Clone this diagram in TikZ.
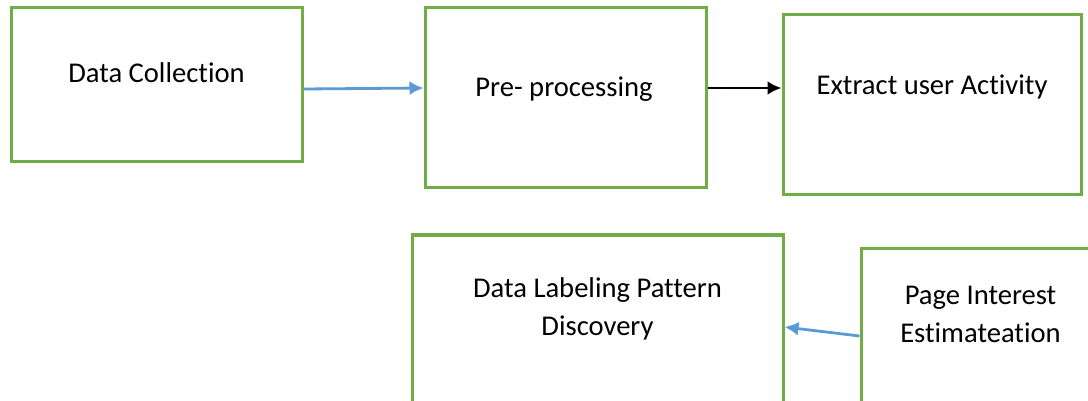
\documentclass[tikz,border=0pt]{standalone}
\usepackage{fontspec}
\setmainfont{Carlito}[Ligatures=NoCommon]
\usepackage{tikz}
\usetikzlibrary{arrows.meta}

\definecolor{boxgreen}{HTML}{70AD47}
\definecolor{arrowblue}{HTML}{5B9BD5}

\begin{document}
\begin{tikzpicture}[x=0.5pt,y=-0.5pt,>={Latex[length=7pt,width=7pt]},
	box/.style={draw=boxgreen,line width=1.5pt,inner sep=0pt,fill=white},
	boxsize/.style 2 args={minimum width=#1*0.5pt,minimum height=#2*0.5pt},
	txt/.style={anchor=base,align=center,font=\fontsize{14.3}{19}\selectfont},
	flow/.style={->,line width=1.4pt}]
	\useasboundingbox (0,0) rectangle (1088,401);
	\clip (0,0) rectangle (1088,401);
	\node[box,boxsize={291}{154}] (dc) at (156.5,85) {};
	\node[box,boxsize={281}{180}] (pre) at (565.5,98) {};
	\node[box,boxsize={298}{180}] (ext) at (932,105) {};
	\node[box,boxsize={371}{205}] (dlp) at (597.5,337.5) {};
	\node[box,boxsize={239}{192}] (pie) at (980.5,344) {};
	\node[txt] (dctext) at (156.5,83) {Data Collection};
	\node[txt] (pretext) at (564,97) {Pre- processing};
	\node[txt] (exttext) at (932,95) {Extract user Activity};
	\node[txt] (dlptext) at (597.5,335) {Data Labeling Pattern\\Discovery};
	\node[txt] (pietext) at (980.5,342) {Page Interest\\Estimateation};
	\draw[flow,arrowblue] ([yshift=-2pt]dc.east) -- ([yshift=5pt]pre.west);
	\draw[flow,black] ([yshift=5pt]pre.east) -- ([yshift=8.5pt]ext.west);
	\draw[flow,arrowblue] ([yshift=4pt]pie.west) -- ([yshift=5.25pt]dlp.east);
\end{tikzpicture}
\end{document}
